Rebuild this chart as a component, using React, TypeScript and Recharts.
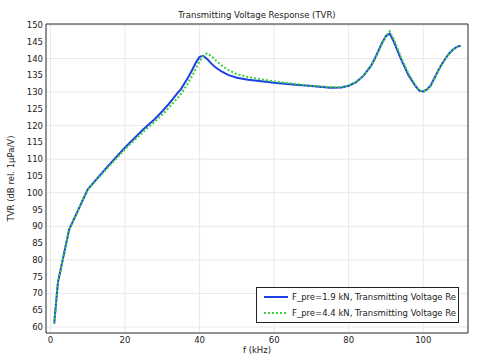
import { CartesianGrid, Line, LineChart, XAxis, YAxis } from "recharts"

// frequency in kHz
const freq = [
  1, 2, 5, 10, 15, 20, 25, 28, 30, 32, 34, 35, 36, 37, 38, 39, 40, 41, 42, 43, 44, 45, 46, 47, 48, 50,
  53, 56, 60, 65, 70, 75, 78, 80, 82, 84, 86, 87, 88, 89, 90, 91, 92, 93, 94, 96, 98, 99, 100, 101,
  102, 103, 104, 105, 106, 107, 108, 109, 110,
]

// TVR, dB rel. 1uPa/V
const tvrLow = [
  61, 73.3, 89, 101, 107.4, 113.5, 119, 122, 124.3, 126.8, 129.6, 130.9, 132.7, 134.5, 136.6, 138.8,
  140.5, 140.8, 139.9, 138.7, 137.6, 136.8, 136.1, 135.5, 135, 134.3, 133.7, 133.3, 132.8, 132.3,
  131.8, 131.3, 131.4, 131.9, 133, 134.9, 137.9, 140, 142.4, 144.8, 146.7, 147.4, 145.3, 142.6, 139.9,
  135.1, 131.6, 130.4, 130.2, 130.8, 132, 134.2, 136.4, 138.4, 140.1, 141.6, 142.7, 143.5, 143.8,
]

const tvrHigh = [
  61, 73.2, 89, 101, 107, 113, 118.3, 121.2, 123.3, 125.6, 128.1, 129.5, 131.1, 132.8, 134.8, 137,
  139.2, 140.8, 141.5, 140.9, 139.8, 138.8, 137.9, 137.1, 136.4, 135.4, 134.5, 133.9, 133.2, 132.5,
  131.9, 131.5, 131.5, 132, 133, 134.9, 137.8, 139.8, 142.1, 144.5, 146.8, 148.1, 146, 143.3, 140.5,
  135.6, 131.9, 130.5, 130.1, 130.6, 131.8, 134, 136.2, 138.3, 140, 141.5, 142.6, 143.5, 143.8,
]

const seriesNames = [
  "F_pre=1.9 kN, Transmitting Voltage Re",
  "F_pre=4.4 kN, Transmitting Voltage Re",
]

const xTicks = [0, 20, 40, 60, 80, 100]
const yTicks = [60, 65, 70, 75, 80, 85, 90, 95, 100, 105, 110, 115, 120, 125, 130, 135, 140, 145, 150]

const data = freq.map((f, i) => ({ f, low: tvrLow[i], high: tvrHigh[i] }))

const BLUE = "#1c3fe6"
const GREEN = "#3ccf3c"
const FONT = '"DejaVu Sans", sans-serif'
const xDomain = [-1.2, 112]
const yDomain = [58.2, 150.3]
const tickStyle = { fontSize: 8.5, fill: "#222", fontFamily: FONT }

export default function App() {
  return (
    <div
      style={{
        position: "absolute",
        left: 0,
        top: 0,
        width: 486,
        height: 359,
        background: "#fff",
        fontFamily: FONT,
        color: "#222",
      }}
    >
      <div
        style={{
          position: "absolute",
          left: 46,
          width: 422,
          top: 10,
          textAlign: "center",
          fontSize: 8.5,
          lineHeight: "10px",
        }}
      >
        Transmitting Voltage Response (TVR)
      </div>
      <LineChart width={486} height={359} data={data} margin={{ top: 24, right: 18, bottom: 0, left: 0 }}>
        <CartesianGrid stroke="#e8e8e8" />
        <XAxis
          dataKey="f"
          type="number"
          domain={xDomain}
          ticks={xTicks}
          allowDataOverflow
          height={26}
          tickLine={false}
          tickSize={0}
          tickMargin={4}
          axisLine={{ stroke: "#333" }}
          tick={tickStyle}
          label={{ value: "f (kHz)", position: "center", dy: 4, fontSize: 8.5, fill: "#222", fontFamily: FONT }}
        />
        <YAxis
          type="number"
          domain={yDomain}
          ticks={yTicks}
          allowDataOverflow
          width={46}
          tickLine={false}
          tickSize={0}
          tickMargin={3}
          axisLine={{ stroke: "#333" }}
          tick={tickStyle}
          label={{
            value: "TVR (dB rel. 1µPa/V)",
            angle: -90,
            position: "center",
            dx: -12,
            fontSize: 8.5,
            fill: "#222",
            fontFamily: FONT,
          }}
        />
        {/* inward tick marks on all four sides */}
        <XAxis
          xAxisId="bt"
          type="number"
          domain={xDomain}
          ticks={xTicks}
          allowDataOverflow
          mirror
          tick={false}
          tickSize={4}
          tickLine={{ stroke: "#333" }}
          axisLine={false}
        />
        <XAxis
          xAxisId="t"
          orientation="top"
          type="number"
          domain={xDomain}
          ticks={xTicks}
          allowDataOverflow
          mirror
          tick={false}
          tickSize={4}
          tickLine={{ stroke: "#333" }}
          axisLine={{ stroke: "#333" }}
        />
        <YAxis
          yAxisId="lt"
          type="number"
          domain={yDomain}
          ticks={yTicks}
          allowDataOverflow
          mirror
          tick={false}
          tickSize={4}
          tickLine={{ stroke: "#333" }}
          axisLine={false}
        />
        <YAxis
          yAxisId="r"
          orientation="right"
          type="number"
          domain={yDomain}
          ticks={yTicks}
          allowDataOverflow
          mirror
          tick={false}
          tickSize={4}
          tickLine={{ stroke: "#333" }}
          axisLine={{ stroke: "#333" }}
        />
        <Line
          type="linear"
          dataKey="low"
          name={seriesNames[0]}
          stroke={BLUE}
          strokeWidth={2}
          dot={false}
          isAnimationActive={false}
        />
        <Line
          type="linear"
          dataKey="high"
          name={seriesNames[1]}
          stroke={GREEN}
          strokeWidth={2}
          strokeDasharray="2 2"
          dot={false}
          isAnimationActive={false}
        />
      </LineChart>
      <div
        style={{
          position: "absolute",
          left: 256,
          top: 287,
          width: 201,
          height: 34,
          border: "1px solid #222",
          background: "#fff",
          fontSize: 8.5,
        }}
      >
        {seriesNames.map((name, i) => (
          <div
            key={name}
            style={{ position: "absolute", left: 6, top: 3 + i * 16, height: 12, display: "flex", alignItems: "center" }}
          >
            <svg width={26} height={12}>
              <line
                x1={1}
                x2={25}
                y1={6}
                y2={6}
                stroke={i === 0 ? BLUE : GREEN}
                strokeWidth={2}
                strokeDasharray={i === 0 ? undefined : "2 2"}
              />
            </svg>
            <span style={{ marginLeft: 3, whiteSpace: "nowrap" }}>{name}</span>
          </div>
        ))}
      </div>
    </div>
  )
}
